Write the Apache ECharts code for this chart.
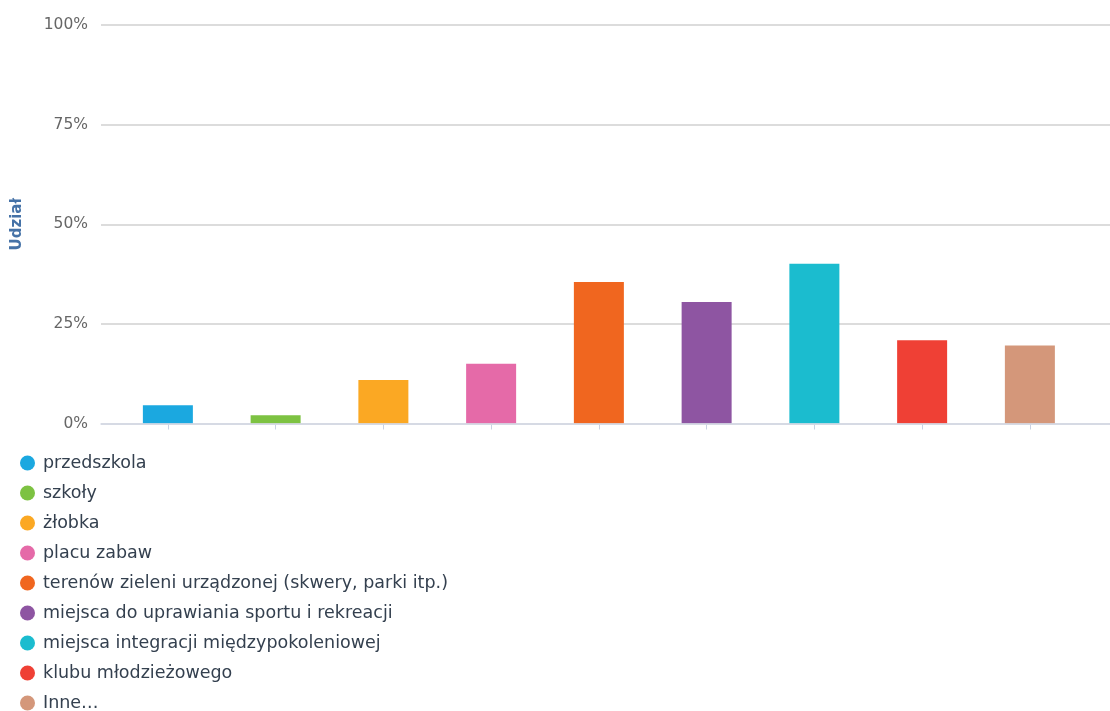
<!DOCTYPE html>
<html>
<head>
<meta charset="utf-8">
<script src="https://cdn.jsdelivr.net/npm/echarts@6/dist/echarts.min.js"></script>
<style>
  html, body { margin: 0; padding: 0; background: #fff; }
  #chart { width: 1110px; height: 711px; }
</style>
</head>
<body>
<div id="chart"></div>
<script>
// dane
var categories = [
  "przedszkola",
  "szkoły",
  "żłobka",
  "placu zabaw",
  "terenów zieleni urządzonej (skwery, parki itp.)",
  "miejsca do uprawiania sportu i rekreacji",
  "miejsca integracji międzypokoleniowej",
  "klubu młodzieżowego",
  "Inne…"
];
var values = [4.6, 2.1, 10.9, 15.0, 35.5, 30.5, 40.1, 20.9, 19.6];
var colors = ["#1ba8e0", "#7dc242", "#fba823", "#e56aa8", "#f0661f", "#8e55a2", "#1bbccf", "#ef4035", "#d4977a"];
var yTicks = [0, 25, 50, 75, 100];

var chart = echarts.init(document.getElementById("chart"));

// jedna seria na kategorię, żeby legenda miała osobne pozycje
var series = categories.map(function (name, i) {
  return {
    name: name,
    type: "bar",
    stack: "all",
    xAxisIndex: 1,
    yAxisIndex: 1,
    barWidth: 50,
    itemStyle: { color: colors[i] },
    data: categories.map(function (c, j) { return j === i ? values[i] : null; })
  };
});

var option = {
  backgroundColor: "#fff",
  animation: false,
  color: colors,
  textStyle: { fontFamily: "DejaVu Sans" },
  grid: [
    // siatka z liniami pomocniczymi
    { left: 101, right: 0, top: 25, bottom: 287.5 },
    // słupki
    { left: 114, right: 26.25, top: 25, bottom: 287.5 }
  ],
  legend: {
    orient: "vertical",
    left: 15,
    top: 448,
    height: 300,
    itemWidth: 21,
    itemHeight: 15,
    itemGap: 10,
    icon: "circle",
    data: categories,
    textStyle: {
      fontFamily: "DejaVu Sans",
      fontSize: 17.5,
      lineHeight: 20,
      color: "#34404f"
    }
  },
  xAxis: [
    {
      gridIndex: 0,
      type: "category",
      data: [""],
      axisLine: { show: true, lineStyle: { color: "#d3d9e6", width: 1.5 } },
      axisTick: { show: false },
      axisLabel: { show: false },
      z: 5
    },
    {
      gridIndex: 1,
      type: "category",
      data: categories,
      axisLine: { show: false },
      axisTick: { show: true, interval: 0, alignWithLabel: true, length: 6, lineStyle: { color: "#c9d2e3" } },
      axisLabel: { show: false, interval: 0 }
    }
  ],
  yAxis: [
    {
      gridIndex: 0,
      type: "value",
      min: yTicks[0],
      max: yTicks[yTicks.length - 1],
      interval: 25,
      name: "Udział",
      nameLocation: "middle",
      nameGap: 76,
      nameTextStyle: { fontFamily: "DejaVu Sans", fontWeight: "bold", fontSize: 15, color: "#4572a7" },
      axisLine: { show: false },
      axisTick: { show: false },
      axisLabel: {
        formatter: "{value}%",
        margin: 13,
        fontFamily: "DejaVu Sans",
        fontSize: 15.5,
        color: "#666666"
      },
      splitLine: { show: true, lineStyle: { color: "#d0d0d0", width: 1.5 } }
    },
    {
      gridIndex: 1,
      type: "value",
      min: yTicks[0],
      max: yTicks[yTicks.length - 1],
      interval: 25,
      show: false,
      splitLine: { show: false }
    }
  ],
  series: series
};

chart.setOption(option);
</script>
</body>
</html>
